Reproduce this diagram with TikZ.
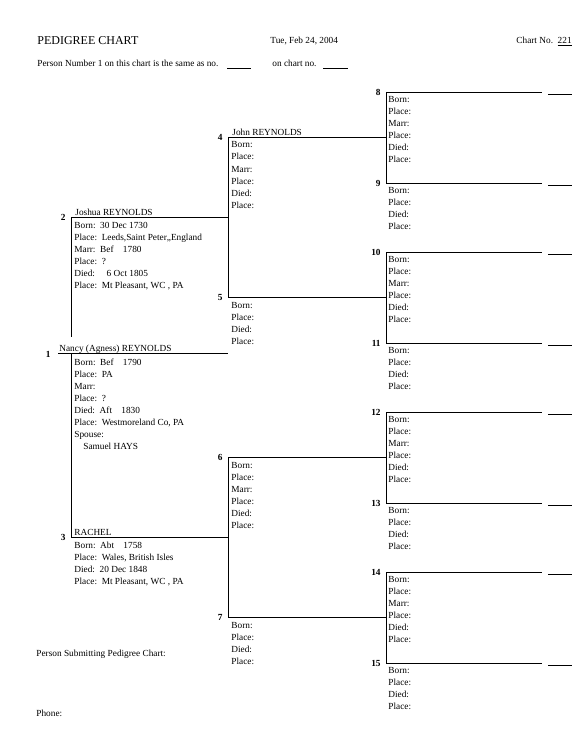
\documentclass[tikz,border=0pt]{standalone}
\usepackage{fontspec}
\setmainfont{Liberation Serif}
\begin{document}
\begin{tikzpicture}[x=1pt,y=-1pt,
  line width=0.8pt,
  lbl/.style={anchor=base west, inner sep=0pt, font=\fontsize{9.3}{10}\selectfont},
  num/.style={anchor=east, inner sep=0pt, font=\fontsize{9.3}{10}\selectfont\bfseries},
  title/.style={anchor=base west, inner sep=0pt, font=\fontsize{12}{14}\selectfont},
  blank/.style={line width=0.7pt}]
\useasboundingbox (0,0) rectangle (576,754);

% ---------- header ----------
\node[title] (ttl) at (37,45) {PEDIGREE CHART};
\node[lbl] (date) at (270,44) {Tue, Feb 24, 2004};
\node[lbl] (chno) at (516,44) {Chart No.\ \ \underline{221}};
\node[lbl] (same) at (37,67) {Person Number 1 on this chart is the same as no.};
\coordinate (b1s) at (227,68); \coordinate (b1e) at (251,68);
\draw[blank] (b1s) -- (b1e);
\node[lbl] (onch) at (272,67) {on chart no.};
\coordinate (b2s) at (323,68); \coordinate (b2e) at (348,68);
\draw[blank] (b2s) -- (b2e);

% ---------- generation 4 ----------
\foreach \n/\y in {8/92,9/183,10/252,11/343,12/412,13/503,14/572,15/663} {
  \coordinate (p\n s) at (386,\y);
  \coordinate (p\n e) at (542,\y);
  \coordinate (q\n s) at (548,{\y+2});
  \coordinate (q\n e) at (572,{\y+2});
  \node[num] (n\n) at (381,{\y+0.5}) {\n};
  \draw (p\n s) -- (p\n e);
  \draw (q\n s) -- (q\n e);
}
\foreach \n/\y in {8/92,10/252,12/412,14/572} {
  \foreach \t [count=\i from 0] in {Born:,Place:,Marr:,Place:,Died:,Place:}
    \node[lbl] (f\n-\i) at (388,{\y+10.5+12*\i}) {\t};
}
\foreach \n/\y in {9/183,11/343,13/503,15/663} {
  \foreach \t [count=\i from 0] in {Born:,Place:,Died:,Place:}
    \node[lbl] (f\n-\i) at (388,{\y+10.5+12*\i}) {\t};
}
\draw (p8s) -- (p9s);
\draw (p10s) -- (p11s);
\draw (p12s) -- (p13s);
\draw (p14s) -- (p15s);

% ---------- generation 3 ----------
\foreach \n/\y in {4/137,5/297,6/457,7/617} {
  \coordinate (p\n s) at (228,\y);
  \coordinate (p\n e) at (386,\y);
  \node[num] (n\n) at (223,{\y+0.5}) {\n};
  \draw (p\n s) -- (p\n e);
}
\node[lbl] (nm4) at (232,135.5) {John REYNOLDS};
\foreach \n/\y in {4/137,6/457} {
  \foreach \t [count=\i from 0] in {Born:,Place:,Marr:,Place:,Died:,Place:}
    \node[lbl] (f\n-\i) at (231,{\y+11+12*\i}) {\t};
}
\foreach \n/\y in {5/297,7/617} {
  \foreach \t [count=\i from 0] in {Born:,Place:,Died:,Place:}
    \node[lbl] (f\n-\i) at (231,{\y+11+12*\i}) {\t};
}
\draw (p4s) -- (p5s);
\draw (p6s) -- (p7s);

% ---------- generation 2 ----------
\coordinate (p2s) at (71,217); \coordinate (p2e) at (228,217);
\coordinate (p3s) at (71,537); \coordinate (p3e) at (228,537);
\node[num] (n2) at (66,217.5) {2};
\node[num] (n3) at (66,537.5) {3};
\draw (p2s) -- (p2e);
\draw (p3s) -- (p3e);
\node[lbl] (nm2) at (75,215.5) {Joshua REYNOLDS};
\foreach \t [count=\i from 0] in {%
  {Born:\ \ 30 Dec 1730},
  {Place:\ \ Leeds,Saint Peter,,England},
  {Marr:\ \ Bef\ \ \ \ 1780},
  {Place:\ \ ?},
  {Died:\ \ \ \ \ 6 Oct 1805},
  {Place:\ \ Mt Pleasant, WC , PA}}
  \node[lbl] (f2-\i) at (74,{228+12*\i}) {\t};
\node[lbl] (nm3) at (74,535.5) {RACHEL};
\foreach \t [count=\i from 0] in {%
  {Born:\ \ Abt\ \ \ \ 1758},
  {Place:\ \ Wales, British Isles},
  {Died:\ \ 20 Dec 1848},
  {Place:\ \ Mt Pleasant, WC , PA}}
  \node[lbl] (f3-\i) at (74,{548+12*\i}) {\t};

% ---------- generation 1 ----------
\coordinate (p1s) at (58,353); \coordinate (p1e) at (228,353);
\coordinate (j1) at (71,353);
\coordinate (gap) at (71,337);
\node[num] (n1) at (51,354.5) {1};
\draw (p1s) -- (p1e);
\draw (p2s) -- (gap);
\draw (j1) -- (p3s);
\node[lbl] (nm1) at (59,351.5) {Nancy (Agness) REYNOLDS};
\foreach \t [count=\i from 0] in {%
  {Born:\ \ Bef\ \ \ \ 1790},
  {Place:\ \ PA},
  {Marr:},
  {Place:\ \ ?},
  {Died:\ \ Aft\ \ \ \ 1830},
  {Place:\ \ Westmoreland Co, PA},
  {Spouse:}}
  \node[lbl] (f1-\i) at (74,{365+12*\i}) {\t};
\node[lbl] (sp1) at (83,449) {Samuel HAYS};

% ---------- footer ----------
\node[lbl] (subm) at (36,656) {Person Submitting Pedigree Chart:};
\node[lbl] (phone) at (36,716) {Phone:};
\end{tikzpicture}
\end{document}
